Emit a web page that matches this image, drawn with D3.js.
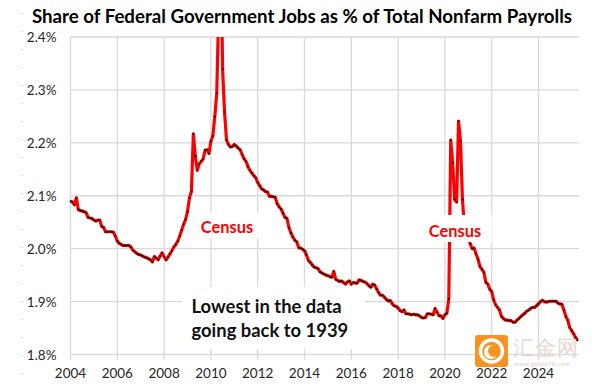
<!DOCTYPE html>
<html><head><meta charset="utf-8">
<script src="https://cdn.jsdelivr.net/npm/d3@7/dist/d3.min.js"></script>
<style>html,body{margin:0;padding:0;background:#fff}svg{display:block}text{font-family:Lato,"Open Sans",sans-serif}</style>
</head><body><svg id="c" width="595" height="390"></svg>
<script>
const title = "Share of Federal Government Jobs as % of Total Nonfarm Payrolls";
const startYear = 2004;
const yTicks = [1.8,1.9,2.0,2.1,2.2,2.3,2.4];
const xTicks = [2004,2006,2008,2010,2012,2014,2016,2018,2020,2022,2024];
const y2004 = [2.0895,2.088,2.083,2.096,2.074,2.072,2.071,2.070,2.068,2.059,2.058,2.057];
const y2005 = [2.054,2.052,2.054,2.054,2.042,2.040,2.032,2.032,2.032,2.032,2.031,2.024];
const y2006 = [2.0145,2.010,2.008,2.006,2.006,2.006,2.006,2.003,1.997,1.994,1.991,1.989];
const y2007 = [1.988,1.986,1.984,1.983,1.981,1.979,1.975,1.985,1.982,1.979,1.986,1.992];
const y2008 = [1.985,1.979,1.984,1.990,1.996,2.003,2.008,2.014,2.024,2.035,2.046,2.055];
const y2009 = [2.070,2.096,2.108,2.217,2.175,2.148,2.160,2.165,2.169,2.186,2.187,2.180];
const y2010 = [2.203,2.213,2.250,2.294,2.450,2.600,2.339,2.258,2.205,2.197,2.192,2.193];
const y2011 = [2.197,2.194,2.190,2.187,2.178,2.170,2.165,2.155,2.148,2.143,2.138,2.134];
const y2012 = [2.125,2.119,2.113,2.111,2.108,2.107,2.099,2.099,2.098,2.097,2.085,2.079];
const y2013 = [2.075,2.067,2.059,2.057,2.040,2.030,2.022,2.016,2.013,2.002,2.001,1.999];
const y2014 = [1.996,1.988,1.978,1.974,1.969,1.965,1.964,1.962,1.956,1.954,1.952,1.950];
const y2015 = [1.949,1.947,1.946,1.957,1.942,1.940,1.938,1.939,1.936,1.933,1.937,1.939];
const y2016 = [1.933,1.936,1.935,1.935,1.941,1.940,1.938,1.937,1.934,1.930,1.927,1.933];
const y2017 = [1.931,1.924,1.917,1.912,1.912,1.908,1.904,1.901,1.902,1.896,1.892,1.891];
const y2018 = [1.888,1.883,1.881,1.884,1.877,1.877,1.876,1.875,1.876,1.875,1.875,1.873];
const y2019 = [1.870,1.869,1.870,1.877,1.877,1.876,1.875,1.887,1.880,1.873,1.873,1.868];
const y2020 = [1.875,1.878,1.905,2.205,2.162,2.093,2.088,2.241,2.203,2.093,2.040,2.030];
const y2021 = [2.022,2.009,2.000,2.001,1.990,1.980,1.966,1.961,1.955,1.936,1.933,1.923];
const y2022 = [1.919,1.903,1.894,1.889,1.884,1.872,1.868,1.865,1.865,1.864,1.864,1.861];
const y2023 = [1.861,1.865,1.868,1.872,1.875,1.878,1.882,1.884,1.887,1.889,1.889,1.892];
const y2024 = [1.896,1.900,1.9025,1.900,1.899,1.900,1.9006,1.9006,1.9006,1.9006,1.897,1.8956];
const y2025 = [1.895,1.884,1.872,1.865,1.851,1.845,1.839,1.832,1.827];
const values = [].concat(y2004,y2005,y2006,y2007,y2008,y2009,y2010,y2011,y2012,y2013,y2014,y2015,y2016,y2017,y2018,y2019,y2020,y2021,y2022,y2023,y2024,y2025);
const census = ["Census","Census"];
const note = ["Lowest in the data","going back to 1939"];

const svg = d3.select("#c");
const x = d3.scaleLinear().domain([2004, 2024]).range([70.5, 538.5]);
const y = d3.scaleLinear().domain([1.8,2.4]).range([354.5,37]);
const right = 579;

// faint tick marks down the left edge of the source image
svg.append("g").selectAll("line").data(d3.range(21)).join("line")
  .attr("x1",20).attr("x2",23).attr("y1",d=>13.5+d*18).attr("y2",d=>13.5+d*18)
  .attr("stroke","#dddddd").attr("stroke-width",1);

svg.append("g").selectAll("line").data(xTicks).join("line")
  .attr("x1",d=>x(d)).attr("x2",d=>x(d)).attr("y1",37).attr("y2",360)
  .attr("stroke","#d9d9d9").attr("stroke-width",1.3);
svg.append("g").selectAll("line").data(yTicks).join("line")
  .attr("x1",70).attr("x2",right).attr("y1",d=>y(d)).attr("y2",d=>y(d))
  .attr("stroke","#d9d9d9").attr("stroke-width",1.3);

svg.append("defs").append("clipPath").attr("id","pl").append("rect")
  .attr("x",60).attr("y",37).attr("width",530).attr("height",330);
const g = svg.append("g").attr("clip-path","url(#pl)");
const px = (d,i)=>x(startYear+i/12);
const line = d3.line().x(px).y(d=>y(d));
g.append("path").attr("d",line(values)).attr("fill","none").attr("stroke","#ff0000")
  .attr("stroke-width",3.2).attr("stroke-linejoin","round");
g.append("g").selectAll("circle").data(values).join("circle")
  .attr("cx",px).attr("cy",d=>y(d)).attr("r",0.95).attr("fill","#000");

// white label backgrounds
const boxes = [[196,212,66,26],[427,215,65,27],[182,287,183,62]];
svg.append("g").selectAll("rect").data(boxes).join("rect")
  .attr("x",d=>d[0]).attr("y",d=>d[1]).attr("width",d=>d[2]).attr("height",d=>d[3]).attr("fill","#fff");

svg.append("text").attr("x",302).attr("y",23).attr("text-anchor","middle")
  .attr("font-size",18.7).attr("font-weight",700).attr("fill","#000").text(title);

svg.append("g").selectAll("text").data(yTicks).join("text")
  .attr("x",56.5).attr("y",d=>y(d)+5).attr("text-anchor","end").attr("font-size",13.5).attr("fill","#262626")
  .text(d=>d.toFixed(1)+"%");
svg.append("g").selectAll("text").data(xTicks).join("text")
  .attr("x",d=>x(d)).attr("y",378).attr("text-anchor","middle").attr("font-size",13.5).attr("fill","#262626")
  .text(d=>d);

const censusPos = [[227,232.5],[455,237]];
svg.append("g").selectAll("text").data(census).join("text")
  .attr("x",(d,i)=>censusPos[i][0]).attr("y",(d,i)=>censusPos[i][1]).attr("text-anchor","middle").attr("font-size",16.4)
  .attr("font-weight",700).attr("fill","#ff0000").text(d=>d);
svg.append("g").selectAll("text").data(note).join("text")
  .attr("x",191.5).attr("y",(d,i)=>312.5+i*24).attr("font-size",18.4).attr("font-weight",700).attr("fill","#111").text(d=>d);

// watermark
const w = svg.append("g");
w.append("rect").attr("x",475).attr("y",335).attr("width",33).attr("height",32).attr("rx",3).attr("fill","#f7931e");
w.append("circle").attr("cx",491.5).attr("cy",351).attr("r",11).attr("fill","none").attr("stroke","#fff").attr("stroke-width",3.5);
w.append("circle").attr("cx",491).attr("cy",352).attr("r",7).attr("fill","#fff");
w.append("circle").attr("cx",494).attr("cy",351).attr("r",6).attr("fill","#f7931e");
w.append("text").attr("x",513).attr("y",355).attr("font-size",21).attr("letter-spacing",1)
  .attr("font-family","'Noto Sans CJK SC'").attr("fill","#e8d8cc").text("汇金网");
w.append("text").attr("x",514).attr("y",366).attr("font-size",6).attr("font-weight",700).attr("letter-spacing",0.35)
  .attr("fill","#e3d8cf").text("www.gold678.com");
</script></body></html>
